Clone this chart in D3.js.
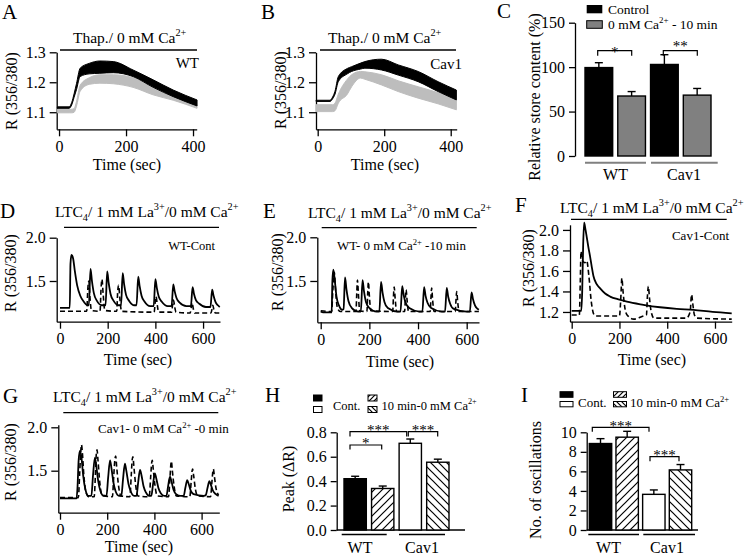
<!DOCTYPE html>
<html><head><meta charset="utf-8">
<script src="https://cdn.jsdelivr.net/npm/d3@7"></script>
<style>
body{margin:0;background:#fff}
svg text{font-family:"Liberation Serif","Times New Roman",serif;fill:#000}
</style>
</head><body>
<svg id="fig" width="745" height="559"></svg>
<script>
// ---------------- DATA ----------------
// Panel A (WT) : Thapsigargin response, mean and SEM
const tA = [-5, 30, 38, 45, 52, 63, 90, 122, 162, 221, 281, 341, 412];
const aBlackMean = [1.113, 1.113, 1.125, 1.150, 1.175, 1.219, 1.228, 1.230, 1.232, 1.219, 1.183, 1.152, 1.121];
const aBlackErr  = [0.005, 0.005, 0.008, 0.012, 0.020, 0.028, 0.035, 0.041, 0.037, 0.022, 0.025, 0.022, 0.020];
const aGrayMean  = [1.110, 1.110, 1.110, 1.112, 1.135, 1.190, 1.215, 1.225, 1.225, 1.215, 1.180, 1.150, 1.125];
const aGrayErr   = [0.012, 0.012, 0.012, 0.012, 0.015, 0.020, 0.022, 0.028, 0.030, 0.032, 0.022, 0.010, 0.012];
// Panel B (Cav1)
const tB = [-5, 37, 45, 52, 62, 89, 102, 129, 142, 192, 242, 302, 362, 417];
const bBlackMean = [1.136, 1.136, 1.145, 1.160, 1.202, 1.228, 1.236, 1.244, 1.247, 1.241, 1.224, 1.202, 1.169, 1.141];
const bBlackErr  = [0.004, 0.004, 0.006, 0.010, 0.017, 0.018, 0.016, 0.020, 0.022, 0.036, 0.034, 0.034, 0.033, 0.033];
const bGrayMean  = [1.125, 1.125, 1.125, 1.130, 1.160, 1.210, 1.225, 1.236, 1.235, 1.225, 1.205, 1.185, 1.165, 1.140];
const bGrayErr   = [0.023, 0.023, 0.023, 0.025, 0.030, 0.050, 0.040, 0.022, 0.025, 0.034, 0.036, 0.038, 0.037, 0.032];

// Panel C : relative store content (%)
const groups = ['WT', 'Cav1'];
const storeControl = [99.5, 103];
const storeControlErr = [5.5, 11];
const storeZero = [67.5, 68.5];
const storeZeroErr = [5, 7.5];

// Panel D : WT-Cont  [time (s), ratio]
const dSolid = [[0,1.19],[41,1.19],[44,1.70],[48,1.80],[55,1.76],[62,1.62],[72,1.45],[85,1.33],[100,1.26],[115,1.22],
 [121,1.22],[128,1.64],[134,1.50],[142,1.36],[155,1.27],[175,1.22],
 [191,1.22],[198,1.61],[204,1.48],[212,1.35],[225,1.27],[245,1.22],
 [256,1.22],[263,1.59],[269,1.46],[277,1.34],[290,1.27],[312,1.22],
 [321,1.22],[328,1.55],[334,1.44],[342,1.33],[355,1.26],[378,1.21],
 [393,1.21],[400,1.52],[406,1.42],[414,1.32],[427,1.26],[452,1.21],
 [468,1.21],[475,1.46],[481,1.38],[489,1.30],[502,1.25],[530,1.21],
 [549,1.21],[556,1.43],[562,1.35],[570,1.28],[583,1.24],[612,1.20],
 [631,1.20],[638,1.40],[644,1.33],[652,1.26],[662,1.22],[670,1.20]];
const dDashed = [[0,1.15],[112,1.15],[117,1.42],[121,1.50],[126,1.30],[132,1.16],
 [168,1.15],[172,1.40],[176,1.52],[181,1.35],[188,1.16],
 [238,1.15],[242,1.38],[246,1.45],[251,1.30],[258,1.15],
 [395,1.14],[399,1.25],[403,1.32],[408,1.22],[414,1.14],
 [468,1.14],[472,1.22],[476,1.28],[481,1.20],[487,1.14],
 [546,1.13],[550,1.19],[554,1.25],[559,1.18],[565,1.13],
 [633,1.13],[637,1.17],[641,1.22],[646,1.16],[652,1.13],[670,1.13]];

// Panel E : WT- 0 mM Ca -10 min
const eSolid = [[0,1.15],[10,1.14],[45,1.14],[48,1.50],[52,1.63],[58,1.50],[65,1.32],[75,1.22],[88,1.17],
 [94,1.18],[100,1.54],[106,1.40],[114,1.27],[128,1.19],[155,1.15],
 [165,1.15],[172,1.51],[178,1.38],[186,1.26],[200,1.19],[230,1.15],
 [241,1.15],[248,1.49],[254,1.37],[262,1.26],[276,1.19],[315,1.15],
 [328,1.15],[335,1.44],[341,1.34],[349,1.25],[364,1.19],[405,1.15],
 [418,1.15],[425,1.43],[431,1.33],[439,1.25],[454,1.19],[498,1.15],
 [511,1.15],[518,1.42],[524,1.32],[532,1.24],[547,1.18],[600,1.15],
 [613,1.15],[620,1.37],[626,1.29],[634,1.22],[645,1.18],[650,1.17]];
const eDashed = [[0,1.16],[45,1.15],[50,1.40],[56,1.60],[61,1.40],[68,1.20],[80,1.15],
 [145,1.15],[148,1.35],[151,1.51],[155,1.35],[160,1.16],
 [190,1.15],[193,1.35],[196,1.49],[200,1.33],[206,1.16],
 [296,1.15],[299,1.32],[302,1.43],[306,1.30],[312,1.15],
 [345,1.15],[348,1.30],[351,1.40],[355,1.28],[361,1.15],
 [450,1.15],[453,1.30],[456,1.42],[460,1.28],[466,1.15],
 [553,1.15],[556,1.28],[559,1.38],[563,1.26],[569,1.15],[650,1.15]];

// Panel F : Cav1-Cont
const fSolid = [[0,1.21],[40,1.21],[44,1.40],[48,1.85],[52,2.07],[58,2.00],[63,1.93],[70,1.83],[77,1.74],[84,1.64],[91,1.55],
 [105,1.47],[119,1.43],[140,1.38],[161,1.35],[200,1.32],[231,1.30],[300,1.27],[370,1.246],[440,1.23],[510,1.22],[590,1.20],[670,1.187]];
const fDashed = [[0,1.17],[32,1.17],[36,1.50],[39,1.79],[45,1.70],[55,1.68],[63,1.70],[72,1.55],[82,1.30],[92,1.18],[100,1.16],
 [150,1.16],[200,1.16],[206,1.35],[210,1.53],[215,1.40],[222,1.25],[232,1.17],[260,1.13],[300,1.16],
 [313,1.17],[317,1.35],[321,1.45],[326,1.33],[333,1.20],[345,1.14],[480,1.14],[496,1.20],[502,1.37],[507,1.28],[514,1.17],[525,1.14],[670,1.13]];

// Panel G : Cav1- 0 mM Ca -0 min
const gSolid = [[0,1.18],[70,1.18],[74,1.30],[79,1.62],[85,1.73],[91,1.65],[98,1.45],[108,1.28],[120,1.21],
 [133,1.21],[140,1.45],[148,1.65],[154,1.55],[162,1.38],[172,1.26],[185,1.21],
 [197,1.21],[204,1.42],[212,1.62],[218,1.53],[226,1.37],[236,1.26],[250,1.21],
 [260,1.21],[267,1.40],[275,1.58],[281,1.50],[290,1.35],[300,1.26],[314,1.21],
 [324,1.21],[331,1.36],[339,1.51],[345,1.45],[354,1.32],[364,1.25],[378,1.21],
 [387,1.21],[394,1.34],[402,1.47],[408,1.41],[417,1.30],[427,1.24],[442,1.21],
 [451,1.21],[458,1.32],[466,1.43],[472,1.38],[481,1.28],[492,1.23],[512,1.21],
 [524,1.21],[531,1.30],[539,1.39],[545,1.35],[554,1.27],[566,1.23],[610,1.21],
 [618,1.22],[625,1.30],[633,1.38],[639,1.34],[648,1.27],[660,1.23],[672,1.21]];
const gDashed = [[0,1.19],[78,1.19],[83,1.45],[88,1.72],[91,1.80],[95,1.70],[101,1.45],[110,1.25],[122,1.20],
 [145,1.20],[150,1.45],[154,1.70],[157,1.74],[161,1.62],[168,1.38],[178,1.22],
 [222,1.20],[228,1.45],[233,1.64],[236,1.67],[240,1.55],[247,1.35],[258,1.21],
 [296,1.20],[302,1.45],[306,1.63],[309,1.66],[313,1.55],[320,1.35],[330,1.21],
 [378,1.20],[384,1.42],[388,1.58],[391,1.62],[395,1.52],[402,1.34],[412,1.21],
 [460,1.20],[466,1.42],[470,1.58],[472,1.61],[476,1.50],[483,1.33],[493,1.21],
 [550,1.20],[556,1.38],[560,1.50],[562,1.52],[566,1.45],[573,1.30],[583,1.21],
 [638,1.20],[644,1.38],[648,1.50],[650,1.52],[654,1.44],[661,1.30],[672,1.22]];

// Panel H : peak (ΔR)
const peakCont = [0.42, 0.71];
const peakContErr = [0.02, 0.035];
const peakZero = [0.34, 0.555];
const peakZeroErr = [0.02, 0.025];
// Panel I : number of oscillations
const oscCont = [8.85, 3.65];
const oscContErr = [0.5, 0.45];
const oscZero = [9.5, 6.15];
const oscZeroErr = [0.6, 0.55];

// tick values
const ticksAB = [1.1, 1.2, 1.3];
const ticksTimeAB = [0, 200, 400];
const ticksTimeDG = [0, 200, 400, 600];
const ticksDEG = [1.5, 2.0];
const ticksF = [1.2, 1.4, 1.6, 1.8, 2.0];
const ticksC = [0, 50, 100, 150];
const ticksH = [0, 0.2, 0.4, 0.6, 0.8];
const ticksI = [0, 2, 4, 6, 8, 10];

// ---------------- DRAWING ----------------
const svg = d3.select('#fig');
svg.append('rect').attr('width', 745).attr('height', 559).attr('fill', '#fff');
const defs = svg.append('defs');
function hatch(id, dir, s) {
  const p = defs.append('pattern').attr('id', id).attr('patternUnits', 'userSpaceOnUse')
    .attr('width', s).attr('height', s);
  p.append('rect').attr('width', s).attr('height', s).attr('fill', '#fff');
  const d = dir === '/'
    ? `M-1,1 L1,-1 M0,${s} L${s},0 M${s-1},${s+1} L${s+1},${s-1}`
    : `M-1,${s-1} L1,${s+1} M0,0 L${s},${s} M${s-1},-1 L${s+1},1`;
  p.append('path').attr('d', d).attr('stroke', '#000').attr('stroke-width', 1.2);
}
hatch('hR', '/', 8); hatch('hL', '\\', 8);
hatch('hRs', '/', 5); hatch('hLs', '\\', 5);

const FS = 16;
function rich(x, y, parts, size, anchor) {
  const t = svg.append('text').attr('x', x).attr('y', y).attr('font-size', size)
    .attr('text-anchor', anchor || 'start');
  let cur = 0;
  parts.forEach(([s, k]) => {
    const target = k === 'sup' ? -0.42 * size : k === 'sub' ? 0.28 * size : 0;
    t.append('tspan').attr('dy', target - cur).attr('font-size', k ? size * 0.66 : size).text(s);
    cur = target;
  });
  return t;
}
function txt(x, y, s, size, anchor, rot) {
  const t = svg.append('text').attr('font-size', size).attr('text-anchor', anchor || 'middle').text(s);
  if (rot) t.attr('transform', `translate(${x},${y}) rotate(-90)`);
  else t.attr('x', x).attr('y', y);
  return t;
}
function styleAxis(g) {
  g.selectAll('path.domain').attr('stroke', '#000').attr('stroke-width', 1.3);
  g.selectAll('.tick line').attr('stroke', '#000').attr('stroke-width', 1.3);
  g.selectAll('.tick text').attr('font-size', FS).attr('font-family', '"Liberation Serif","Times New Roman",serif').attr('fill', '#000');
  g.attr('font-family', null);
}
function hline(x1, x2, y, w, c) {
  svg.append('line').attr('x1', x1).attr('x2', x2).attr('y1', y).attr('y2', y)
    .attr('stroke', c || '#000').attr('stroke-width', w || 1.3);
}

function tracePanel(c) {
  const x = d3.scaleLinear().domain(c.xd).range(c.xr);
  const y = d3.scaleLinear().domain(c.yd).range(c.yr);
  const gx = svg.append('g').attr('transform', `translate(0,${c.yr[0]})`)
    .call(d3.axisBottom(x).tickValues(c.xt).tickSize(7).tickSizeOuter(0).tickPadding(4).tickFormat(d3.format('d')));
  styleAxis(gx);
  const gy = svg.append('g').attr('transform', `translate(${c.xr[0]},0)`)
    .call(d3.axisLeft(y).tickValues(c.yt).tickSize(7).tickSizeOuter(0).tickPadding(4).tickFormat(d3.format('.1f')));
  styleAxis(gy);
  return { x, y };
}

function bandPanel(s, t, gm, ge, bm, be) {
  const zip = t.map((v, i) => i);
  const area = (m, e, sign) => d3.area().curve(d3.curveMonotoneX)
    .x(i => s.x(t[i])).y0(i => s.y(m[i])).y1(i => s.y(m[i] + sign * e[i]));
  svg.append('path').attr('d', area(gm, ge, -1)(zip)).attr('fill', '#bdbdbd').attr('stroke', '#bdbdbd').attr('stroke-width', 1);
  svg.append('path').attr('d', area(bm, be, 1)(zip)).attr('fill', '#000').attr('stroke', '#000').attr('stroke-width', 1);
}
function traces(s, solid, dashed) {
  const line = d3.line().curve(d3.curveMonotoneX).x(d => s.x(d[0])).y(d => s.y(d[1]));
  svg.append('path').attr('d', line(dashed)).attr('fill', 'none').attr('stroke', '#000')
    .attr('stroke-width', 1.6).attr('stroke-dasharray', '5,3');
  svg.append('path').attr('d', line(solid)).attr('fill', 'none').attr('stroke', '#000')
    .attr('stroke-width', 1.8);
}

// ---- Panel A
const sA = tracePanel({ xd: [-7, 411], xr: [56.7, 196.7], yd: [1.043, 1.3], yr: [129.3, 52.3], xt: ticksTimeAB, yt: ticksAB });
bandPanel(sA, tA, aGrayMean, aGrayErr, aBlackMean, aBlackErr);
txt(2, 19, 'A', 21, 'start');
hline(60, 197, 50);
rich(73, 43, [['Thap./ 0 mM Ca'], ['2+', 'sup']], 15.5);
txt(199, 68, 'WT', 15, 'end');
txt(127, 170, 'Time (sec)', FS);
txt(17, 91, 'R (356/380)', FS, 'middle', true);

// ---- Panel B
const sB = tracePanel({ xd: [-5.1, 418], xr: [316, 456.7], yd: [1.043, 1.3], yr: [129.3, 52.3], xt: ticksTimeAB, yt: ticksAB });
bandPanel(sB, tB, bGrayMean, bGrayErr, bBlackMean, bBlackErr);
txt(261, 19, 'B', 21, 'start');
hline(320, 456, 50);
rich(328, 43, [['Thap./ 0 mM Ca'], ['2+', 'sup']], 15.5);
txt(462, 69, 'Cav1', 15, 'end');
txt(385, 170, 'Time (sec)', FS);
txt(286, 90, 'R (356/380)', FS, 'middle', true);

// ---- Panel D
const sD = tracePanel({ xd: [-13.8, 671], xr: [56.7, 220], yd: [1.03, 2.0], yr: [321.7, 237.7], xt: ticksTimeDG, yt: ticksDEG });
traces(sD, dSolid, dDashed);
txt(0, 218, 'D', 21, 'start');
hline(64, 219, 227.3);
rich(55, 216.5, [['LTC'], ['4', 'sub'], ['/ 1 mM La'], ['3+', 'sup'], ['/0 mM Ca'], ['2+', 'sup']], 15.5);
txt(215, 250, 'WT-Cont', 12.5, 'end');
txt(138, 365, 'Time (sec)', FS);
txt(16, 273, 'R (356/380)', FS, 'middle', true);

// ---- Panel E
const sE = tracePanel({ xd: [-14, 650.6], xr: [317.3, 479], yd: [1.027, 2.0], yr: [322.3, 237.3], xt: ticksTimeDG, yt: ticksDEG });
traces(sE, eSolid, eDashed);
txt(263, 218, 'E', 21, 'start');
hline(321.7, 476.7, 227.7);
rich(308, 218, [['LTC'], ['4', 'sub'], ['/ 1 mM La'], ['3+', 'sup'], ['/0 mM Ca'], ['2+', 'sup']], 15.5);
rich(337, 250, [['WT- 0 mM Ca'], ['2+', 'sup'], [' -10 min']], 13);
txt(400, 366.5, 'Time (sec)', FS);
txt(283, 272, 'R (356/380)', FS, 'middle', true);

// ---- Panel F
const sF = tracePanel({ xd: [-7.1, 670], xr: [570, 731.7], yd: [1.105, 2.05], yr: [321.7, 224.8], xt: ticksTimeDG, yt: ticksF });
traces(sF, fSolid, fDashed);
txt(515, 212, 'F', 21, 'start');
hline(571, 726.7, 219.3);
rich(560, 213, [['LTC'], ['4', 'sub'], ['/ 1 mM La'], ['3+', 'sup'], ['/0 mM Ca'], ['2+', 'sup']], 15.5);
txt(729, 240, 'Cav1-Cont', 13, 'end');
txt(652, 365, 'Time (sec)', FS);
txt(534, 268, 'R (356/380)', FS, 'middle', true);

// ---- Panel G
const sG = tracePanel({ xd: [-7.2, 675], xr: [58.3, 219.3], yd: [1.016, 2.03], yr: [512.7, 424.7], xt: ticksTimeDG, yt: ticksDEG });
traces(sG, gSolid, gDashed);
txt(3, 402.5, 'G', 21, 'start');
hline(63.3, 218.3, 412.7);
rich(53, 401.5, [['LTC'], ['4', 'sub'], ['/ 1 mM La'], ['3+', 'sup'], ['/0 mM Ca'], ['2+', 'sup']], 15.5);
rich(98, 433, [['Cav1- 0 mM Ca'], ['2+', 'sup'], [' -0 min']], 13);
txt(139, 551.5, 'Time (sec)', FS);
txt(16, 462, 'R (356/380)', FS, 'middle', true);

// ---------------- bar panels ----------------
const barKeys = ['WT|c', 'WT|z', 'Cav1|c', 'Cav1|z'];
function barPanel(c) {
  const x = d3.scaleBand().domain(barKeys).range(c.xr).paddingInner(c.pi).paddingOuter(0);
  const y = d3.scaleLinear().domain(c.yd).range(c.yr);
  const gy = svg.append('g').attr('transform', `translate(${c.axisX},0)`)
    .call(d3.axisLeft(y).tickValues(c.yt).tickSize(6).tickSizeOuter(0).tickPadding(4).tickFormat(c.fmt));
  styleAxis(gy);
  if (c.baseEnd) hline(c.axisX, c.baseEnd, c.yr[0]);
  const rows = [];
  groups.forEach((gname, i) => {
    rows.push({ k: gname + '|c', v: c.cont[i], e: c.contErr[i], fill: c.fillC[i] });
    rows.push({ k: gname + '|z', v: c.zero[i], e: c.zeroErr[i], fill: c.fillZ[i] });
  });
  rows.forEach(r => {
    const x0 = x(r.k), w = x.bandwidth(), cx = x0 + w / 2;
    svg.append('line').attr('x1', cx).attr('x2', cx).attr('y1', y(r.v)).attr('y2', y(r.v + r.e))
      .attr('stroke', '#000').attr('stroke-width', 1.4);
    svg.append('line').attr('x1', cx - 4).attr('x2', cx + 4).attr('y1', y(r.v + r.e)).attr('y2', y(r.v + r.e))
      .attr('stroke', '#000').attr('stroke-width', 1.4);
    svg.append('rect').attr('x', x0).attr('y', y(r.v)).attr('width', w).attr('height', y(0) - y(r.v))
      .attr('fill', r.fill).attr('stroke', '#000').attr('stroke-width', 1.4);
  });
  return { x, y };
}
function bracket(x1, x2, y, leg, label, ly, size) {
  svg.append('path').attr('d', `M${x1},${y + leg} V${y} H${x2} V${y + leg}`)
    .attr('fill', 'none').attr('stroke', '#000').attr('stroke-width', 1.2);
  txt((x1 + x2) / 2, ly, label, size || 14);
}

// ---- Panel C
barPanel({ xr: [585, 711], pi: 0.155, yd: [0, 150], yr: [156, 22.7], yt: ticksC, axisX: 575, fmt: d3.format('d'),
  cont: storeControl, contErr: storeControlErr, zero: storeZero, zeroErr: storeZeroErr,
  fillC: ['#000', '#000'], fillZ: ['#808080', '#808080'] });
txt(497, 18, 'C', 21, 'start');
hline(585, 646, 162.7, 2, '#808080');
hline(651, 717.7, 162.7, 2, '#808080');
txt(615.5, 180, 'WT', FS);
txt(684, 180, 'Cav1', FS);
txt(540, 97, 'Relative store content (%)', FS, 'middle', true);
bracket(597.7, 631.7, 50.7, 5, '*', 56.5, 15);
bracket(663.3, 697.3, 50.7, 5, '**', 51, 15);
svg.append('rect').attr('x', 586.7).attr('y', 5).attr('width', 15.6).attr('height', 8.3).attr('fill', '#000');
svg.append('rect').attr('x', 586.7).attr('y', 20.7).attr('width', 15.6).attr('height', 7.6).attr('fill', '#808080').attr('stroke', '#000').attr('stroke-width', 1);
txt(608, 14, 'Control', 13.5, 'start');
rich(608, 29, [['0 mM Ca'], ['2+', 'sup'], [' - 10 min']], 13.5);

// ---- Panel H
barPanel({ xr: [344, 449], pi: 0.19, yd: [0, 0.8], yr: [530, 432.3], yt: ticksH, axisX: 336.7, baseEnd: 465, fmt: d3.format('.1f'),
  cont: peakCont, contErr: peakContErr, zero: peakZero, zeroErr: peakZeroErr,
  fillC: ['#000', '#fff'], fillZ: ['url(#hR)', 'url(#hL)'] });
txt(265, 401.5, 'H', 21, 'start');
hline(341.7, 386.7, 534.5, 1.3);
hline(399, 445, 534.5, 1.3);
txt(360, 553, 'WT', FS);
txt(422, 553, 'Cav1', FS);
txt(294, 479, 'Peak (\u0394R)', FS, 'middle', true);
bracket(350, 381.7, 445, 4.5, '*', 448, 15);
bracket(350, 406.7, 431.7, 4.8, '***', 435, 15);
bracket(408.3, 437.7, 431.7, 4.8, '***', 435, 15);
svg.append('rect').attr('x', 313.5).attr('y', 395).attr('width', 8.5).attr('height', 6).attr('fill', '#000').attr('stroke', '#000');
svg.append('rect').attr('x', 313.5).attr('y', 406.5).attr('width', 8.5).attr('height', 6).attr('fill', '#fff').attr('stroke', '#000');
svg.append('rect').attr('x', 368).attr('y', 395).attr('width', 9).attr('height', 6).attr('fill', 'url(#hRs)').attr('stroke', '#000');
svg.append('rect').attr('x', 368).attr('y', 406.5).attr('width', 9).attr('height', 6).attr('fill', 'url(#hLs)').attr('stroke', '#000');
txt(333, 409.5, 'Cont.', 12.5, 'start');
rich(381.5, 409.5, [['10 min-0 mM Ca'], ['2+', 'sup']], 12.5);

// ---- Panel I
barPanel({ xr: [589.3, 691.7], pi: 0.16, yd: [0, 10], yr: [530, 432.3], yt: ticksI, axisX: 586.7, baseEnd: 698, fmt: d3.format('d'),
  cont: oscCont, contErr: oscContErr, zero: oscZero, zeroErr: oscZeroErr,
  fillC: ['#000', '#fff'], fillZ: ['url(#hR)', 'url(#hL)'] });
txt(521, 402, 'I', 21, 'start');
hline(588.3, 639, 534.5, 1.3);
hline(643.3, 695, 534.5, 1.3);
txt(608.5, 553, 'WT', FS);
txt(667, 553, 'Cav1', FS);
txt(541, 480, 'No. of oscillations', FS, 'middle', true);
bracket(592.3, 649, 427.3, 4.5, '***', 431, 15);
bracket(650, 679, 456.7, 4.5, '***', 460, 15);
svg.append('rect').attr('x', 560).attr('y', 391.7).attr('width', 13).attr('height', 5.6).attr('fill', '#000').attr('stroke', '#000');
svg.append('rect').attr('x', 560).attr('y', 401.5).attr('width', 13).attr('height', 5.3).attr('fill', '#fff').attr('stroke', '#000');
svg.append('rect').attr('x', 613.5).attr('y', 391.7).attr('width', 13).attr('height', 5.6).attr('fill', 'url(#hRs)').attr('stroke', '#000');
svg.append('rect').attr('x', 613.5).attr('y', 401.5).attr('width', 13).attr('height', 5.3).attr('fill', 'url(#hLs)').attr('stroke', '#000');
txt(578, 407, 'Cont.', 13, 'start');
rich(630, 407, [['10 min-0 mM Ca'], ['2+', 'sup']], 13);
</script>
</body></html>
